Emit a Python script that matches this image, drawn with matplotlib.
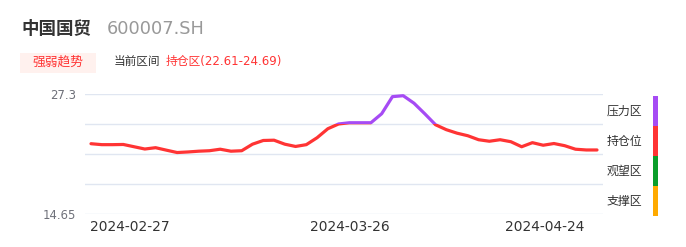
import matplotlib
matplotlib.use("Agg")
import matplotlib.pyplot as plt
from matplotlib.patches import Rectangle
from matplotlib.transforms import ScaledTranslation

plt.rcParams['font.family'] = ['DejaVu Sans', 'Noto Sans CJK SC']

# data
dates = ["2024-02-21", "2024-02-22", "2024-02-23", "2024-02-26", "2024-02-27", "2024-02-28",
         "2024-02-29", "2024-03-01", "2024-03-04", "2024-03-05", "2024-03-06", "2024-03-07",
         "2024-03-08", "2024-03-11", "2024-03-12", "2024-03-13", "2024-03-14", "2024-03-15",
         "2024-03-18", "2024-03-19", "2024-03-20", "2024-03-21", "2024-03-22", "2024-03-25",
         "2024-03-26", "2024-03-27", "2024-03-28", "2024-03-29", "2024-04-01", "2024-04-02",
         "2024-04-03", "2024-04-08", "2024-04-09", "2024-04-10", "2024-04-11", "2024-04-12",
         "2024-04-15", "2024-04-16", "2024-04-17", "2024-04-18", "2024-04-19", "2024-04-22",
         "2024-04-23", "2024-04-24", "2024-04-25", "2024-04-26", "2024-04-29", "2024-04-30"]
prices = [22.06, 21.96, 21.96, 21.98, 21.74, 21.50, 21.64, 21.38, 21.13, 21.19, 21.27, 21.32,
          21.48, 21.27, 21.32, 22.01, 22.40, 22.43, 22.01, 21.77, 21.96, 22.69, 23.64, 24.14,
          24.27, 24.27, 24.27, 25.22, 27.02, 27.12, 26.33, 25.22, 24.06, 23.54, 23.17, 22.90,
          22.48, 22.32, 22.48, 22.27, 21.74, 22.17, 21.90, 22.08, 21.85, 21.48, 21.40, 21.40]
shown_dates = ["2024-02-27", "2024-03-26", "2024-04-24"]
y_min, y_max = 14.65, 27.3
zone_names = ["压力区", "持仓位", "观望区", "支撑区"]
zone_colors = ["#A64BF4", "#FF3434", "#0A9E2A", "#FFAA00"]

W, H = 686, 247
fig = plt.figure(figsize=(W / 100, H / 100), dpi=100)

def fx(px):
    return px / W

def fy(py):
    return 1 - py / H

ax = fig.add_axes([fx(85), fy(214), fx(603) - fx(85), fy(94) - fy(214)])
step = (y_max - y_min) / 4
levels = [y_min + i * step for i in range(5)]
for lv in levels:
    ax.axhline(lv, color="#E0E6F1", lw=1, zorder=1)

xs = list(range(len(prices)))
red_line, = ax.plot(xs, prices, color="#FF3434", lw=2.3, solid_capstyle="round",
                    solid_joinstyle="round", zorder=3)
purple_line, = ax.plot(xs, prices, color="#A64BF4", lw=2.3, solid_capstyle="round",
                       solid_joinstyle="round", zorder=4)
thr = levels[3]
clip = Rectangle((-5, thr), 60, 10, transform=ax.transData)
purple_line.set_clip_path(clip)
clip2 = Rectangle((-5, y_min - 5), 60, thr - y_min + 5, transform=ax.transData)
red_line.set_clip_path(clip2)

ax.set_xlim(-0.557, len(prices) - 1 + 0.557)
ax.set_ylim(y_min, y_max)
for s in ax.spines.values():
    s.set_visible(False)
ax.set_yticks([y_min, y_max])
ax.set_yticklabels(["14.65", "27.3"])
ax.set_xticks([dates.index(d) for d in shown_dates])
ax.set_xticklabels(shown_dates)
ax.tick_params(axis="y", length=0, pad=6.5, labelsize=8.4, labelcolor="#6E7079")
ax.tick_params(axis="x", length=0, pad=4, labelsize=9.9, labelcolor="#333333")
# nudge first and last date labels like the original layout
shifts = [-4, 0, -9]
for lab, dx in zip(ax.get_xticklabels(), shifts):
    lab.set_transform(lab.get_transform() + ScaledTranslation(dx / 100, 0, fig.dpi_scale_trans))

# header
fig.text(fx(21), fy(29), "中国国贸", fontsize=12.6, color="#333333", va="center", ha="left",
         fontweight="bold")
fig.text(fx(107), fy(29), "600007.SH", fontsize=12.8, color="#999999", va="center", ha="left")
fig.patches.append(Rectangle((fx(20), fy(73)), fx(96) - fx(20), fy(53) - fy(73),
                             transform=fig.transFigure, facecolor="#FFF1EE", edgecolor="none"))
fig.text(fx(58), fy(62), "强弱趋势", fontsize=9.2, color="#FF3434", va="center", ha="center")
fig.text(fx(114), fy(62), "当前区间", fontsize=8.4, color="#333333", va="center", ha="left")
fig.text(fx(166), fy(62), "持仓区(22.61-24.69)", fontsize=8.5, color="#FF3434", va="center", ha="left")

# zone legend
for i, (name, c) in enumerate(zip(zone_names, zone_colors)):
    top = 96 + 30 * i
    fig.patches.append(Rectangle((fx(653), fy(top + 30)), fx(658) - fx(653), fy(top) - fy(top + 30),
                                 transform=fig.transFigure, facecolor=c, edgecolor="none"))
    fig.text(fx(607), fy(top + 15.5), name, fontsize=8.6, color="#333333", va="center", ha="left")

fig.savefig("out.png", dpi=100)
